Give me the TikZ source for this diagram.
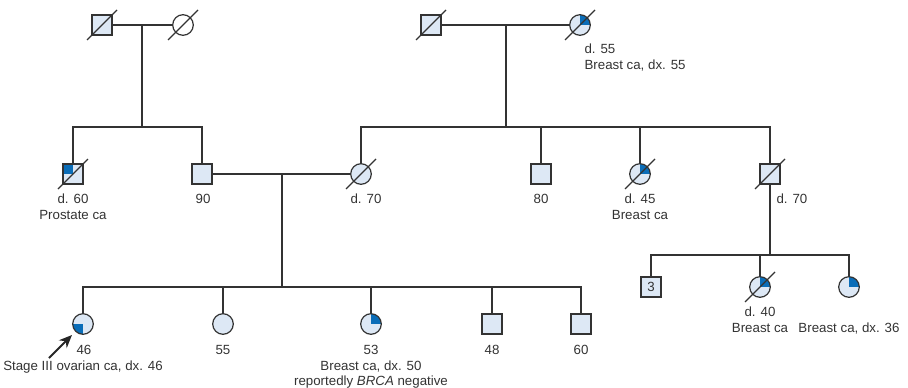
\documentclass[tikz,border=0pt]{standalone}
\usepackage{fontspec}
\setmainfont{Liberation Sans}
\usetikzlibrary{arrows.meta,calc}
\definecolor{lb}{HTML}{DDE8F5}
\definecolor{aff}{HTML}{0A6DB8}
\definecolor{ink}{HTML}{333333}
\begin{document}
\begin{tikzpicture}[x=1pt,y=-1pt,
  line width=1.1pt, draw=ink,
  every node/.style={inner sep=0pt},
  male/.style={draw=ink, rectangle, minimum size=20pt, fill=lb, line width=1.2pt},
  female/.style={draw=ink, circle, minimum size=20.6pt, fill=lb, line width=1.2pt},
  qNE/.style={path picture={\fill[aff] (path picture bounding box.center) rectangle (path picture bounding box.north east);}},
  qNW/.style={path picture={\fill[aff] (path picture bounding box.center) rectangle (path picture bounding box.north west);}},
  qSW/.style={path picture={\fill[aff] (path picture bounding box.center) rectangle (path picture bounding box.south west);}},
  slash/.style={draw=ink, line width=1.1pt},
  lbl/.style={text=ink, font=\fontsize{13.3}{16}\selectfont, anchor=base},
  lblw/.style={lbl, anchor=base west}
]
\useasboundingbox (0,0) rectangle (908,388);

% Generation I
\node[male] (g1m) at (102,25) {};
\node[female, fill=white] (g1f) at (183,25) {};
\node[male] (g2m) at (431,25) {};
\node[female, qNE] (g2f) at (580,25) {};

% Generation II
\node[male, qNW] (unc) at (73,174) {};
\node[male] (dad) at (202,174) {};
\node[female] (mom) at (361,174) {};
\node[male] (u80) at (541,174) {};
\node[female, qNE] (a45) at (640,174) {};
\node[male] (u70) at (770,174) {};

% Generation III
\node[female, qSW] (pro) at (83,324) {};
\node[female] (s55) at (223,324) {};
\node[female, qNE] (s53) at (371,324) {};
\node[male] (b48) at (492,324) {};
\node[male] (b60) at (581,324) {};
\node[male, font=\fontsize{13.3}{16}\selectfont, text=ink] (c3) at (651,287) {3};
\node[female, qNE] (c40) at (760,287) {};
\node[female, qNE] (c36) at (849,287) {};

% coordinates
\coordinate (m1) at (142,25);
\coordinate (s1) at (142,127);
\coordinate (m2) at (506,25);
\coordinate (s2) at (506,127);
\coordinate (m3) at (282,174);
\coordinate (s3) at (282,287);
\coordinate (s4) at (770,255);
\coordinate (at) at (49,358);
\coordinate (ah) at (72,335);

% connectors
\draw (g1m) -- (g1f);
\draw (m1) -- (s1);
\draw (unc.north) |- (s1) -| (dad.north);
\draw (g2m) -- (g2f);
\draw (m2) -- (s2);
\draw (mom.north) |- (s2) -| (u70.north);
\draw (s2) -| (u80.north);
\draw (s2) -| (a45.north);
\draw (dad) -- (mom);
\draw (m3) -- (s3);
\draw (pro.north) |- (s3) -| (b60.north);
\draw (s3) -| (s55.north);
\draw (s3) -| (s53.north);
\draw (s3) -| (b48.north);
\draw (u70) -- (s4);
\draw (c3.north) |- (s4) -| (c36.north);
\draw (s4) -| (c40.north);

% deceased slashes
\foreach \n in {g1m,g1f,g2m,g2f,unc,mom,a45,u70,c40}
  \draw[slash] ($(\n)+(-15,15)$) -- ($(\n)+(15,-15)$);

% proband arrow
\draw[black!85, line width=1.8pt, -{Stealth[length=13pt,width=11pt]}] (at) -- (ah);

% labels
\node[lblw] at (584,53) {d. 55};
\node[lblw] at (584,69) {Breast ca, dx. 55};
\node[lbl] at (73,203) {d. 60};
\node[lbl] at (73,219) {Prostate ca};
\node[lbl] at (203,203) {90};
\node[lbl] at (366,203) {d. 70};
\node[lbl] at (541,203) {80};
\node[lbl] at (640,203) {d. 45};
\node[lbl] at (640,219) {Breast ca};
\node[lblw] at (776,203) {d. 70};
\node[lbl] at (84,354) {46};
\node[lbl] at (83,370) {Stage III ovarian ca, dx. 46};
\node[lbl] at (223,354) {55};
\node[lbl] at (371,354) {53};
\node[lbl] at (371,370) {Breast ca, dx. 50};
\node[lbl] at (371,385) {reportedly \textit{BRCA} negative};
\node[lbl] at (492,354) {48};
\node[lbl] at (581,354) {60};
\node[lbl] at (760,316) {d. 40};
\node[lbl] at (760,332) {Breast ca};
\node[lbl] at (849,332) {Breast ca, dx. 36};
\end{tikzpicture}
\end{document}
